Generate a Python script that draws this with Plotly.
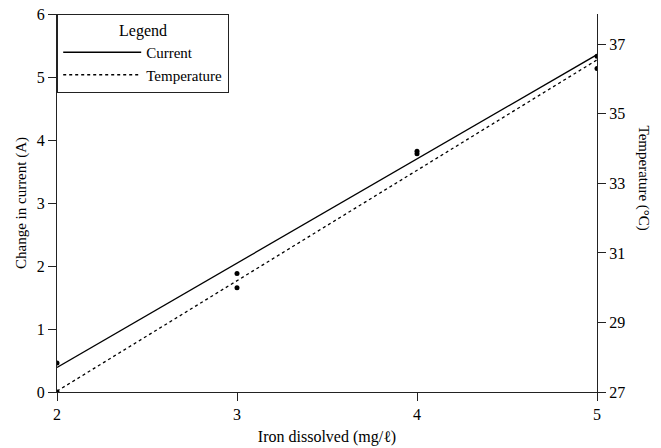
import numpy as np
import plotly.graph_objects as go

iron = [2, 3, 4, 5]
current = [0.46, 1.88, 3.82, 5.33]
temperature = [27.0, 30.0, 33.85, 36.3]

x_ticks = [2, 3, 4, 5]
y_ticks = [0, 1, 2, 3, 4, 5, 6]
y2_ticks = [27, 29, 31, 33, 35, 37]

xf = np.array([2.0, 5.0])
c_fit = np.polyval(np.polyfit(iron, current, 1), xf)
t_fit = np.polyval(np.polyfit(iron, temperature, 1), xf)

FONT = "Liberation Serif"

fig = go.Figure()
fig.add_trace(go.Scatter(x=xf, y=c_fit, mode="lines", name="Current",
                         line=dict(color="black", width=1.3)))
fig.add_trace(go.Scatter(x=xf, y=t_fit, mode="lines", name="Temperature",
                         line=dict(color="black", width=1.3, dash="3px,3px"),
                         yaxis="y2"))
fig.add_trace(go.Scatter(x=iron, y=current, mode="markers", showlegend=False,
                         marker=dict(color="black", size=5)))
fig.add_trace(go.Scatter(x=iron, y=temperature, mode="markers", showlegend=False,
                         marker=dict(color="black", size=5), yaxis="y2"))

axis_common = dict(showgrid=False, zeroline=False, showline=True, linecolor="#222",
                   linewidth=1.2, ticks="outside", ticklen=8, tickcolor="#222",
                   automargin=False,
                   tickfont=dict(family=FONT, size=16, color="black"))

fig.update_layout(
    width=661, height=448,
    margin=dict(l=57, r=64, t=14, b=56),
    paper_bgcolor="white", plot_bgcolor="white",
    font=dict(family=FONT, size=15, color="black"),
    xaxis=dict(range=[2, 5], tickvals=x_ticks,
               title=dict(text="Iron dissolved (mg/ℓ)", font=dict(family=FONT, size=16), standoff=8),
               **axis_common),
    yaxis=dict(range=[0, 6], tickvals=y_ticks,
               title=dict(text="Change in current (A)", font=dict(family=FONT, size=15), standoff=6),
               **axis_common),
    yaxis2=dict(range=[27, 37.87], tickvals=y2_ticks, overlaying="y", side="right",
                **axis_common),
    legend=dict(x=0, y=1, xanchor="left", yanchor="top",
                bordercolor="#222", borderwidth=1.2, bgcolor="white",
                font=dict(family=FONT, size=15), itemwidth=78,
                entrywidth=155, entrywidthmode="pixels",
                title=dict(text="Legend", side="top center", font=dict(family=FONT, size=16)),
                tracegroupgap=0),
    annotations=[dict(text="Temperature (°C)", textangle=90, x=1.0, xref="paper",
                      xanchor="left", xshift=36, y=0.566, yref="paper", showarrow=False,
                      font=dict(family=FONT, size=15, color="black"))],
)

fig.write_html("out.html")
